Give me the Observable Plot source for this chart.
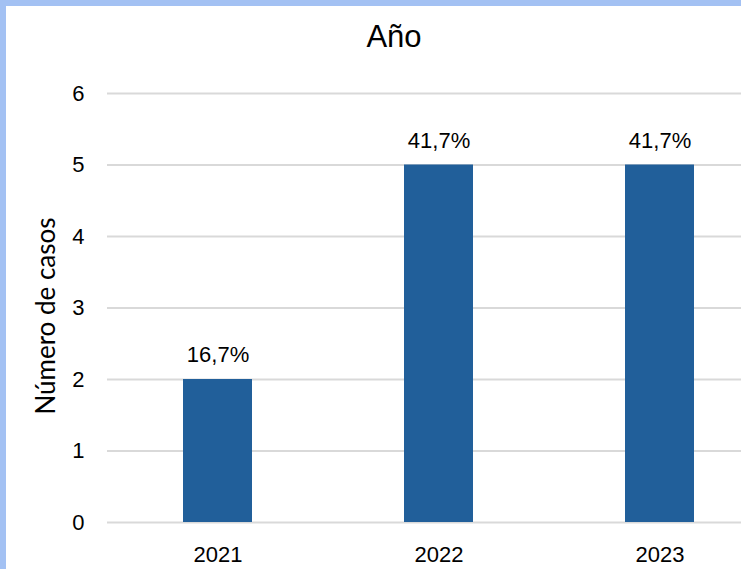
<!DOCTYPE html>
<html><head><meta charset="utf-8">
<script src="https://cdn.jsdelivr.net/npm/d3@7"></script>
<script src="https://cdn.jsdelivr.net/npm/@observablehq/plot@0.6"></script>
<style>
html,body{margin:0;padding:0;width:741px;height:569px;overflow:hidden;background:#a3c1f3;}
#frame{position:absolute;left:6px;top:6px;width:800px;height:600px;background:#fff;overflow:hidden;}
#title{position:absolute;left:0;width:776px;top:14.5px;line-height:31px;text-align:center;font-size:31px;font-family:"Liberation Sans",Arial,sans-serif;color:#000;z-index:2;}
#chart{position:absolute;left:0;top:0;z-index:1;}
</style></head>
<body>
<div id="frame"><div id="chart"></div><div id="title">Año</div></div>
<script>
const years = ["2021", "2022", "2023"];
const cases = [2, 5, 5];
const shares = ["16,7%", "41,7%", "41,7%"];
const yTicks = [0, 1, 2, 3, 4, 5, 6];
const yLabel = "Número de casos";

const data = years.map((y, i) => ({year: y, cases: cases[i], share: shares[i]}));

const chart = Plot.plot({
  width: 764, height: 563,
  marginTop: 87, marginBottom: 47, marginLeft: 101, marginRight: 0,
  style: {fontFamily: '"Liberation Sans", Arial, sans-serif', fontSize: "22px", color: "#000", background: "transparent", overflow: "visible"},
  x: {domain: years, paddingInner: 0.688, paddingOuter: 0.344, label: null, tickSize: 0, tickPadding: 24},
  y: {domain: [0, 6], ticks: yTicks, tickFormat: d3.format("d"), label: null, tickSize: 0, tickPadding: 23},
  marks: [
    Plot.gridY(yTicks, {stroke: "#d9d9d9", strokeOpacity: 1, strokeWidth: 2}),
    Plot.barY(data, {x: "year", y: "cases", fill: "#215f9a"}),
    Plot.text(data, {x: "year", y: "cases", text: "share", dy: -17.5, lineAnchor: "bottom", fontSize: 22}),
    Plot.text([yLabel], {frameAnchor: "left", rotate: -90, dx: -61, dy: 8, fontFamily: "Lato, 'Open Sans', sans-serif", fontSize: 26, textAnchor: "middle", lineAnchor: "middle"})
  ]
});
document.getElementById("chart").appendChild(chart);
</script>
</body></html>
